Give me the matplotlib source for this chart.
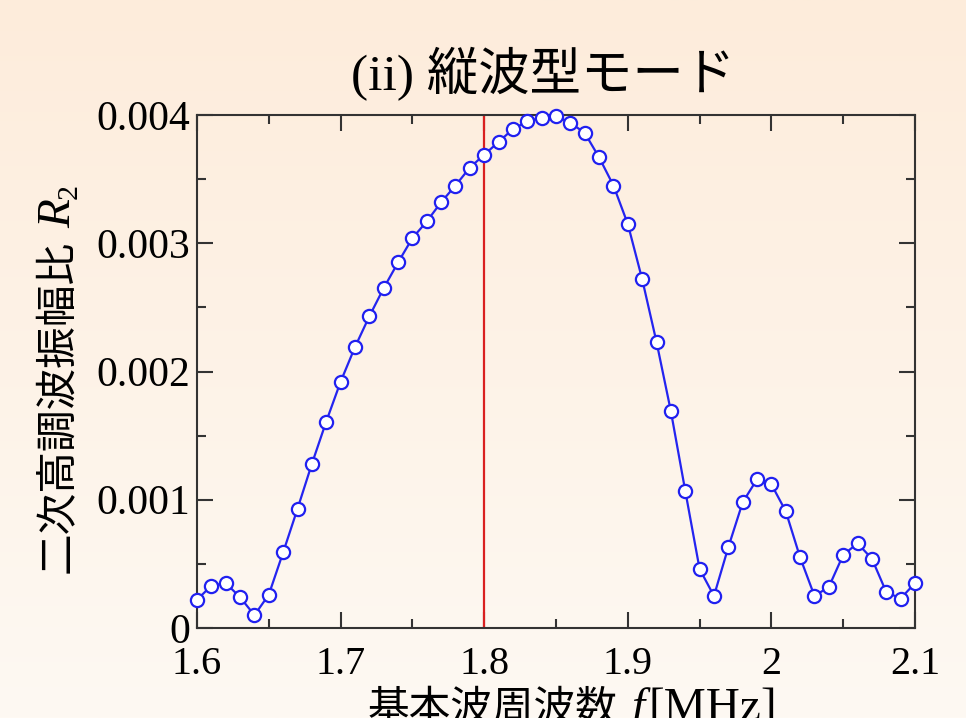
import numpy as np
import matplotlib
matplotlib.use("Agg")
import matplotlib.pyplot as plt
from matplotlib.ticker import MultipleLocator, FixedLocator, FixedFormatter

# ---- data ----
freq_mhz = [1.60, 1.61, 1.62, 1.63, 1.64, 1.65, 1.66, 1.67, 1.68, 1.69,
            1.70, 1.71, 1.72, 1.73, 1.74, 1.75, 1.76, 1.77, 1.78, 1.79,
            1.80, 1.81, 1.82, 1.83, 1.84, 1.85, 1.86, 1.87, 1.88, 1.89,
            1.90, 1.91, 1.92, 1.93, 1.94, 1.95, 1.96, 1.97, 1.98, 1.99,
            2.00, 2.01, 2.02, 2.03, 2.04, 2.05, 2.06, 2.07, 2.08, 2.09, 2.10]
r2_ratio = [0.00022, 0.00033, 0.00035, 0.00024, 0.00010, 0.00026, 0.00059, 0.00093, 0.00128, 0.00161,
            0.00192, 0.00219, 0.00243, 0.00265, 0.00285, 0.00304, 0.00317, 0.00332, 0.00345, 0.00359,
            0.00369, 0.00379, 0.00389, 0.00395, 0.00398, 0.00399, 0.00394, 0.00386, 0.00367, 0.00345,
            0.00315, 0.00272, 0.00223, 0.00169, 0.00107, 0.00046, 0.00025, 0.00063, 0.00098, 0.00116,
            0.00112, 0.00091, 0.00055, 0.00025, 0.00032, 0.00057, 0.00066, 0.00054, 0.00028, 0.00023, 0.00035]
marker_freq = 1.80
x_ticks = [1.6, 1.7, 1.8, 1.9, 2.0, 2.1]
x_tick_labels = ["1.6", "1.7", "1.8", "1.9", "2", "2.1"]
y_ticks = [0, 0.001, 0.002, 0.003, 0.004]
y_tick_labels = ["0", "0.001", "0.002", "0.003", "0.004"]
title_text = "(ii) 縦波型モード"
xlabel_parts = [("基本波周波数", "cjk"), ("f", "it"), ("[MHz]", "rm")]
ylabel_parts = [("二次高調波振幅比", "cjk"), ("R", "it"), ("2", "sub")]

SERIF = 'Liberation Serif'
CJK = 'Noto Sans CJK JP'
plt.rcParams['font.family'] = [SERIF, CJK]

W, H = 966, 718
fig = plt.figure(figsize=(W / 100, H / 100), dpi=100)

# background gradient
bg = fig.add_axes([0, 0, 1, 1], zorder=-10)
grad = np.linspace(0, 1, 256).reshape(-1, 1)
top = np.array([253, 236, 219]) / 255.0
bot = np.array([254, 249, 243]) / 255.0
img = top[None, None, :] * (1 - grad[:, :, None]) + bot[None, None, :] * grad[:, :, None]
bg.imshow(img, aspect='auto', extent=[0, 1, 0, 1])
bg.axis('off')

ax = fig.add_axes([197 / W, 1 - 628 / H, (915 - 197) / W, (628 - 115) / H])
ax.patch.set_alpha(0)

ax.axvline(marker_freq, color='#d92020', lw=1.6, zorder=2)
ax.plot(freq_mhz, r2_ratio, '-o', color='#2424f0', lw=1.6, ms=9.5,
        mfc='white', mec='#2020f0', mew=1.6, zorder=3, clip_on=False)

ax.set_xlim(1.6, 2.1)
ax.set_ylim(0, 0.004)
ax.xaxis.set_major_locator(FixedLocator(x_ticks))
ax.xaxis.set_major_formatter(FixedFormatter(x_tick_labels))
ax.yaxis.set_major_locator(FixedLocator(y_ticks))
ax.yaxis.set_major_formatter(FixedFormatter(y_tick_labels))
ax.xaxis.set_minor_locator(MultipleLocator(0.05))
ax.yaxis.set_minor_locator(MultipleLocator(0.0005))
ax.tick_params(which='both', direction='in', top=True, right=True,
               color='#333333', width=1.5)
ax.tick_params(which='major', length=11.5)
ax.tick_params(axis='y', which='major', labelsize=30, pad=5)
ax.tick_params(axis='x', which='major', labelsize=29, pad=13)
ax.tick_params(which='minor', length=6.5)
for s in ax.spines.values():
    s.set_color('#333333')
    s.set_linewidth(1.5)

# title
fig.text(543 / W, 1 - 90 / H, title_text, fontsize=37, ha='center', va='baseline')

renderer = fig.canvas.get_renderer()


def style(kind, size):
    if kind == "cjk":
        return dict(family=[CJK], fontsize=size)
    if kind == "it":
        return dict(family=[SERIF], style='italic', fontsize=size + 4)
    if kind == "rm":
        return dict(family=[SERIF], fontsize=size + 4)
    if kind == "sub":
        return dict(family=[SERIF], fontsize=size * 0.72)


gaps = {"cjk": 14, "it": 4, "rm": 0, "sub": 0}

# x label: pieces laid left to right along a baseline
x0, base = 368, 720
size = 30
for txt, kind in xlabel_parts:
    t = fig.text(x0 / W, 1 - base / H, txt, ha='left', va='baseline', **style(kind, size))
    bb = t.get_window_extent(renderer)
    x0 += bb.width + gaps[kind]

# y label: rotated pieces laid bottom to top, baseline at x = xb
y0, xb = 573, 70
for txt, kind in ylabel_parts:
    xx = xb + (7 if kind == "sub" else 0)
    t = fig.text(xx / W, 1 - y0 / H, txt, ha='left', va='baseline', rotation=90,
                 rotation_mode='anchor', **style(kind, size))
    bb = t.get_window_extent(renderer)
    y0 -= bb.height + (12 if kind == "cjk" else 0)

fig.savefig("out.png", dpi=100)
